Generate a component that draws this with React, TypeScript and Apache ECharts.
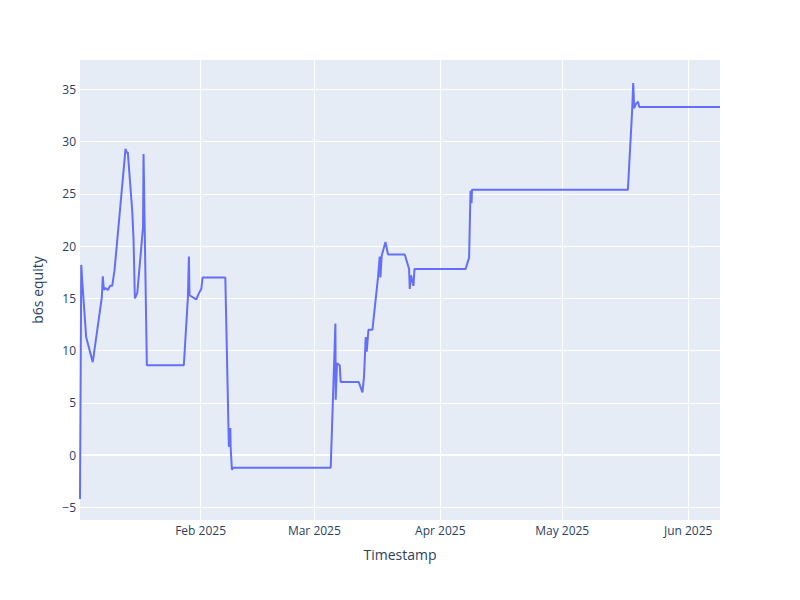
import React, { useEffect, useRef } from "react";
import * as echarts from "echarts";

const timestamps: string[] = [
  "2025-01-02 07:40", "2025-01-02 15:00", "2025-01-02 20:40", "2025-01-03 20:00",
  "2025-01-05 11:00", "2025-01-07 16:30", "2025-01-07 22:30", "2025-01-08 04:30",
  "2025-01-08 14:00", "2025-01-09 04:00", "2025-01-09 18:00", "2025-01-10 06:00",
  "2025-01-10 19:40", "2025-01-13 12:40", "2025-01-13 20:00", "2025-01-14 02:00",
  "2025-01-15 04:00", "2025-01-15 12:00", "2025-01-15 19:40", "2025-01-16 10:00",
  "2025-01-17 15:00", "2025-01-17 20:00", "2025-01-17 23:00", "2025-01-18 18:30",
  "2025-01-27 21:00", "2025-01-28 21:00", "2025-01-29 03:00", "2025-01-29 06:30",
  "2025-01-30 12:30", "2025-01-30 22:30", "2025-01-31 14:00", "2025-02-01 04:00",
  "2025-02-01 12:00", "2025-02-07 02:00", "2025-02-07 23:00", "2025-02-08 07:40",
  "2025-02-08 09:20", "2025-02-08 17:00", "2025-02-08 23:00", "2025-03-05 00:30",
  "2025-03-06 04:20", "2025-03-06 06:00", "2025-03-06 13:40", "2025-03-07 05:40",
  "2025-03-07 11:30", "2025-03-11 22:00", "2025-03-12 20:00", "2025-03-13 05:20",
  "2025-03-13 15:20", "2025-03-13 21:20", "2025-03-14 07:30", "2025-03-15 07:00",
  "2025-03-16 16:00", "2025-03-17 02:00", "2025-03-17 06:00", "2025-03-17 14:00",
  "2025-03-18 12:00", "2025-03-19 03:00", "2025-03-23 06:00", "2025-03-24 07:30",
  "2025-03-24 11:30", "2025-03-24 19:00", "2025-03-25 09:20", "2025-03-25 15:20",
  "2025-04-07 05:00", "2025-04-08 02:00", "2025-04-08 10:20", "2025-04-08 16:20",
  "2025-04-08 19:00", "2025-05-17 04:00", "2025-05-18 05:30", "2025-05-18 11:20",
  "2025-05-18 17:20", "2025-05-19 03:20", "2025-05-19 16:00", "2025-05-19 23:00",
  "2025-06-08 20:00",
];

const equity: number[] = [
  -4.2, 18.2, 16.7, 11.3,
  8.9, 15.1, 17.1, 15.8,
  16.0, 15.8, 16.2, 16.2,
  17.7, 29.3, 28.9, 29.0,
  23.4, 20.6, 15.0, 15.5,
  20.9, 21.8, 28.8, 8.6,
  8.6, 15.1, 19.0, 15.3,
  15.0, 14.9, 15.5, 15.9,
  17.0, 17.0, 0.8, 2.6,
  0.8, -1.4, -1.2, -1.2,
  12.6, 5.3, 8.8, 8.6,
  7.0, 7.0, 6.0, 7.5,
  11.3, 9.9, 12.0, 12.0,
  17.0, 19.0, 17.0, 19.1,
  20.4, 19.2, 19.2, 17.8,
  15.9, 17.2, 16.2, 17.8,
  17.8, 18.9, 25.3, 24.1,
  25.4, 25.4, 33.1, 35.6,
  33.2, 33.6, 33.8, 33.3,
  33.3,
];

const monthNames: string[] = ["Jan", "Feb", "Mar", "Apr", "May", "Jun", "Jul", "Aug", "Sep", "Oct", "Nov", "Dec"];

const xTitle = "Timestamp";
const yTitle = "b6s equity";

const FONT = '"Open Sans", verdana, arial, sans-serif';
const TXT = "#2a3f5f";

export default function App() {
  const ref = useRef<HTMLDivElement>(null);

  useEffect(() => {
    if (!ref.current) return;
    const chart = echarts.init(ref.current, undefined, { renderer: "svg" });
    const data = timestamps.map((t, i) => [t, equity[i]]);
    chart.setOption({
      animation: false,
      backgroundColor: "#ffffff",
      textStyle: { fontFamily: FONT },
      grid: {
        left: 80,
        right: 80,
        top: 60,
        bottom: 80,
        show: true,
        backgroundColor: "#E5ECF6",
        borderWidth: 0,
      },
      xAxis: {
        type: "time",
        min: timestamps[0],
        max: timestamps[timestamps.length - 1],
        splitNumber: 5,
        name: xTitle,
        nameLocation: "middle",
        nameGap: 27,
        nameTextStyle: { fontSize: 14, color: TXT, fontFamily: FONT },
        axisLine: { show: false },
        axisTick: { show: false },
        axisLabel: {
          color: TXT,
          fontSize: 12,
          fontFamily: FONT,
          margin: 4,
          showMinLabel: false,
          showMaxLabel: false,
          formatter: (val: number) => {
            const d = new Date(val);
            if (d.getDate() === 1 && d.getHours() === 0 && d.getMinutes() === 0) {
              return monthNames[d.getMonth()] + " " + d.getFullYear();
            }
            return "";
          },
        },
        splitLine: {
          show: true,
          showMinLine: false,
          showMaxLine: false,
          lineStyle: { color: "#ffffff", width: 1 },
        },
      },
      yAxis: {
        type: "value",
        min: -6.2,
        max: 37.8,
        splitNumber: 9,
        minInterval: 5,
        maxInterval: 5,
        name: yTitle,
        nameLocation: "middle",
        nameGap: 36,
        nameTextStyle: { fontSize: 14, color: TXT, fontFamily: FONT },
        axisLine: { show: false },
        axisTick: { show: false },
        axisLabel: {
          color: TXT,
          fontSize: 12,
          fontFamily: FONT,
          margin: 4,
          showMinLabel: false,
          showMaxLabel: false,
          formatter: (v: number) => String(v).replace("-", "\u2212"),
        },
        splitLine: {
          show: true,
          showMinLine: false,
          showMaxLine: false,
          lineStyle: { color: "#ffffff", width: 1 },
        },
      },
      series: [
        {
          type: "line",
          data,
          showSymbol: false,
          lineStyle: { color: "#636EFA", width: 2 },
          itemStyle: { color: "#636EFA" },
          z: 3,
          markLine: {
            silent: true,
            symbol: "none",
            label: { show: false },
            lineStyle: { color: "#ffffff", width: 2, type: "solid" },
            data: [{ yAxis: 0 }],
            z: 1,
          },
        },
      ],
    });
    return () => chart.dispose();
  }, []);

  return (
    <div
      ref={ref}
      style={{ position: "fixed", left: 0, top: 0, width: 800, height: 600 }}
    />
  );
}
